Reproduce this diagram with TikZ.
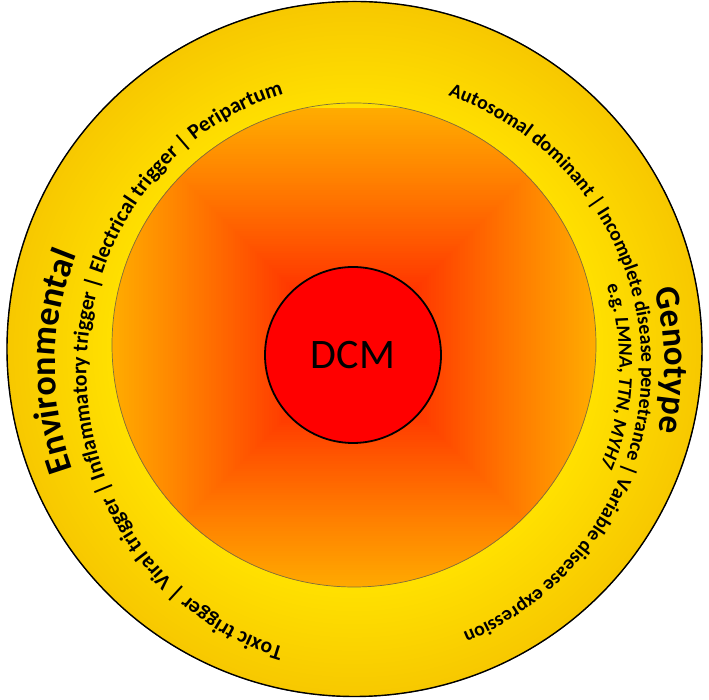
\documentclass[tikz,border=0pt]{standalone}
\usepackage{fontspec}
\setmainfont{Carlito}
\usetikzlibrary{decorations.text}
\definecolor{yelIn}{RGB}{255,224,0}
\definecolor{yelOut}{RGB}{247,200,0}
\definecolor{rimline}{RGB}{125,112,60}
\definecolor{dcmred}{RGB}{255,0,0}
\pgfdeclareradialshading{ringshade}{\pgfpoint{0bp}{0bp}}{color(0bp)=(yelIn); color(17.4bp)=(yelIn); color(25bp)=(yelOut); color(50bp)=(yelOut)}
\tikzset{
  arctext/.style={decorate, decoration={text along path, text align=center, text format delimiters={@}{@}, text={#1}}},
  dcmnode/.style={circle, draw, line width=1.8pt, fill=dcmred, minimum size=176pt, inner sep=0pt, font=\fontsize{42}{42}\selectfont},
}
\begin{document}
\begin{tikzpicture}[x=1pt,y=1pt]
\useasboundingbox (0,0) rectangle (709,700);
\coordinate (O) at (354.5,351);
\coordinate (Oin) at (354,355);
\coordinate (Ot) at (354.5,333);
\coordinate (Ol) at (354.5,329);
\coordinate (Og) at (354,350);
% outer ring with shadow
\fill[black!60, shift={(1.3,-1.3)}] (O) circle (348);
\shade[shading=ringshade] (O) circle (347.5);
\draw[line width=1.4pt] (O) circle (347.5);
% inner rectangular gradient
\begin{scope}
  \clip (Oin) circle (242);
  \foreach \i in {100,99,...,1}{
    \pgfmathtruncatemacro\g{172*((\i/100)^0.85)}
    \definecolor{tmpc}{RGB}{255,\g,0}
    \fill[tmpc, shift={(Og)}] (-2.42*\i,-2.42*\i) rectangle (2.42*\i,2.42*\i);
  }
\end{scope}
\draw[rimline, line width=0.7pt] (Oin) circle (242);
\node[dcmnode] (dcm) at (353,345) {DCM};
% left texts
\path[shift={(Ot)}, arctext={@\bfseries\fontsize{36}{36}\selectfont@Environmental}] (208.9:299.5) arc[start angle=208.9, end angle=148.9, radius=299.5];
\path[shift={(Ol)}, arctext={@\bfseries\fontsize{21.5}{21.5}\selectfont@Toxic trigger | Viral trigger | Inflammatory trigger | Electrical trigger | Peripartum}] (280:268 and 287) arc[start angle=280, end angle=80, x radius=268, y radius=287];
% right texts
\path[shift={(Ot)}, arctext={@\bfseries\fontsize{35}{35}\selectfont@Genotype}] (31.2:310) arc[start angle=31.2, end angle=-28.8, radius=310];
\path[shift={(Ot)}, arctext={@\bfseries\fontsize{19.8}{19.8}\selectfont@Autosomal dominant | Incomplete disease penetrance | Variable disease expression}] (91.6:287) arc[start angle=91.6, end angle=-88.4, radius=287];
\path[shift={(Ot)}, arctext={@\bfseries\fontsize{19.5}{19.5}\selectfont@e.g. @\bfseries\itshape\fontsize{19.5}{19.5}\selectfont@LMNA, TTN, MYH7}] (38:265) arc[start angle=38, end angle=-42, radius=265];
\end{tikzpicture}
\end{document}
